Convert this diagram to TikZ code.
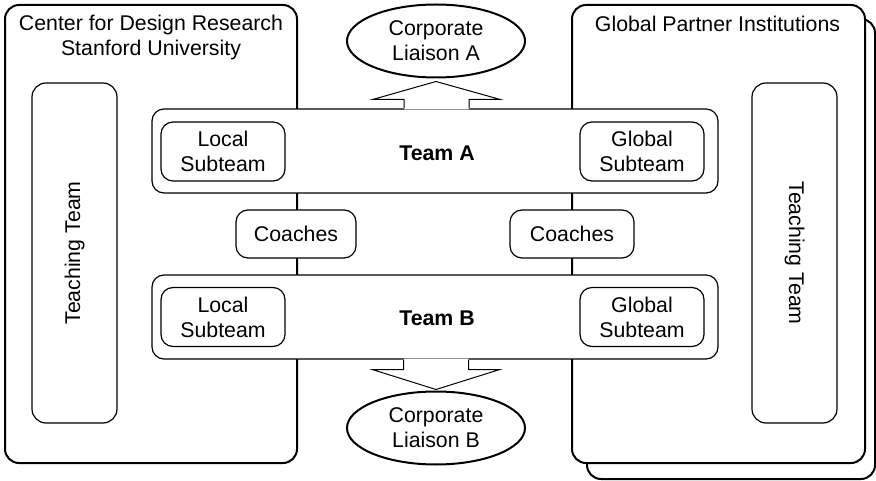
\documentclass[tikz,border=0pt]{standalone}
\usepackage{fontspec}
\setmainfont{Liberation Sans}
\usetikzlibrary{shapes.geometric,calc}
\begin{document}
\begin{tikzpicture}[x=1pt,y=-1pt,
  every node/.style={font=\fontsize{21.3}{25}\selectfont, inner sep=0pt, align=center},
  bigbox/.style={draw, line width=2pt, rounded corners=14pt, fill=white},
  teachbox/.style={draw, line width=1.2pt, rounded corners=14pt, fill=white, minimum width=340pt, minimum height=85pt},
  teambox/.style={draw, line width=1.2pt, rounded corners=12pt, fill=white, minimum width=566pt, minimum height=84pt},
  subbox/.style={draw, line width=1.2pt, rounded corners=12pt, fill=white, minimum width=124pt, minimum height=59pt},
  coachbox/.style={draw, line width=1.2pt, rounded corners=12pt, fill=white, minimum height=48pt},
  liaison/.style={draw, ellipse, line width=2pt, fill=white, minimum width=178pt, minimum height=73pt},
  bigarrow/.style={draw, line width=1pt, line join=miter}
]
\useasboundingbox (0,0) rectangle (876,481);
% big boxes
\node[bigbox, minimum width=288pt, minimum height=460pt] (rightback) at (731,249) {};
\node[bigbox, minimum width=293pt, minimum height=458pt] (rightbox) at (718.5,234) {};
\node[bigbox, minimum width=292pt, minimum height=458pt] (leftbox) at (151,234) {};
\node (lefttitle) at (151,37) {Center for Design Research\\Stanford University};
\node (righttitle) at (717.5,24) {Global Partner Institutions};
% teaching teams
\node[teachbox, rotate=90] (teachL) at (74.5,253) {Teaching Team};
\node[teachbox, rotate=-90] (teachR) at (794.5,253) {Teaching Team};
% teams
\node[teambox] (teamA) at (435,151) {};
\node[teambox] (teamB) at (435,317) {};
\node[font=\fontsize{21.3}{25}\selectfont\bfseries] (teamAlabel) at (437,153) {Team A};
\node[font=\fontsize{21.3}{25}\selectfont\bfseries] (teamBlabel) at (437,318) {Team B};
\node[subbox] (localA) at (223,151.5) {Local\\Subteam};
\node[subbox] (globalA) at (642,151.5) {Global\\Subteam};
\node[subbox] (localB) at (223,317) {Local\\Subteam};
\node[subbox] (globalB) at (642,317) {Global\\Subteam};
% coaches
\node[coachbox, minimum width=120pt] (coachL) at (296,234) {Coaches};
\node[coachbox, minimum width=124pt] (coachR) at (572,234) {Coaches};
% liaisons
\node[liaison] (liaisonA) at (436,41) {Corporate\\Liaison A};
\node[liaison] (liaisonB) at (436,428) {Corporate\\Liaison B};
% arrow up
\coordinate (aT) at ($(teamA.north)+(1.5,0)$);
\fill[white] ($(aT)+(-32.5,1)$) -- ($(aT)+(-32.5,-9)$) -- ($(aT)+(-63.5,-9)$) -- (liaisonA.south) -- ($(aT)+(63.5,-9)$) -- ($(aT)+(32.5,-9)$) -- ($(aT)+(32.5,1)$) -- cycle;
\draw[bigarrow] ($(aT)+(-32.5,0)$) -- ($(aT)+(-32.5,-9)$) -- ($(aT)+(-63.5,-9)$) -- ($(liaisonA.south)+(0,3)$) -- ($(aT)+(63.5,-9)$) -- ($(aT)+(32.5,-9)$) -- ($(aT)+(32.5,0)$);
% arrow down
\coordinate (bT) at ($(teamB.south)+(1,0)$);
\fill[white] ($(bT)+(-32.5,-1)$) -- ($(bT)+(-32.5,10)$) -- ($(bT)+(-63.5,10)$) -- ($(liaisonB.north)+(0,-1)$) -- ($(bT)+(63.5,10)$) -- ($(bT)+(32.5,10)$) -- ($(bT)+(32.5,-1)$) -- cycle;
\draw[bigarrow] ($(bT)+(-32.5,0)$) -- ($(bT)+(-32.5,10)$) -- ($(bT)+(-63.5,10)$) -- ($(liaisonB.north)+(0,-1)$) -- ($(bT)+(63.5,10)$) -- ($(bT)+(32.5,10)$) -- ($(bT)+(32.5,0)$);
\end{tikzpicture}
\end{document}
